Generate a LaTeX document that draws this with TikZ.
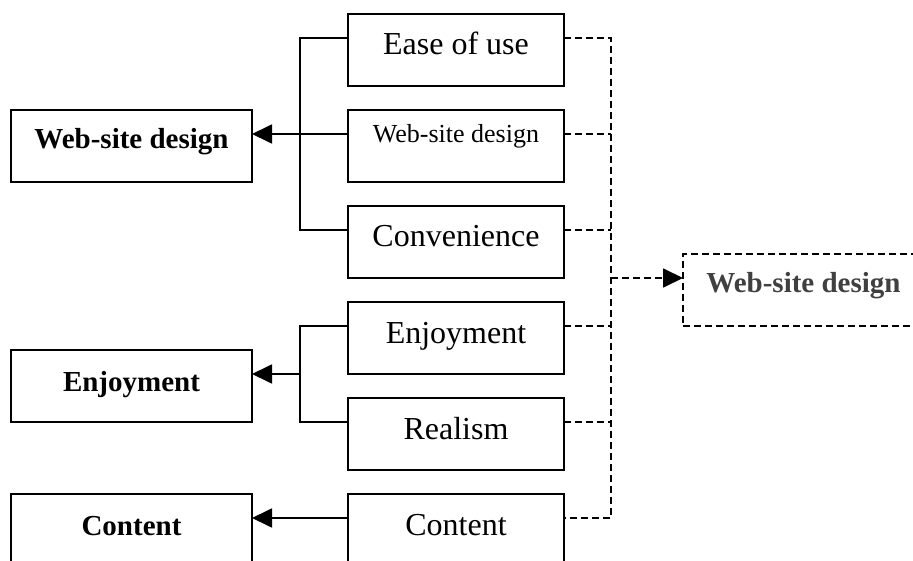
\documentclass[tikz,border=0pt]{standalone}
\usepackage{fontspec}
\setmainfont{Liberation Serif}
\usetikzlibrary{arrows.meta,calc}
\definecolor{labelgray}{HTML}{404040}

\tikzset{
  frame/.style={draw, rectangle, line width=1.8pt, inner sep=0pt, outer sep=0pt},
  midbox/.style={frame, minimum width=216pt, text height=41pt, text depth=31pt,
    font=\fontsize{32}{38}\selectfont},
  midsmall/.style={frame, minimum width=216pt, text height=33pt, text depth=39pt,
    font=\fontsize{26}{31}\selectfont},
  factorbox/.style={frame, minimum width=241pt, text height=40pt, text depth=32pt,
    font=\fontsize{29}{35}\selectfont\bfseries},
  solidlink/.style={line width=1.8pt},
  dashlink/.style={line width=1.8pt, dash pattern=on 7pt off 4pt},
  bigtip/.style={-{Triangle[length=20pt,width=19pt]}}
}

\begin{document}
\begin{tikzpicture}[x=1pt,y=-1pt]
\useasboundingbox (0,0) rectangle (913,561);
\clip (0,0) rectangle (913,561);

% items (middle column)
\node[midbox]   (m1) at (456,50)  {Ease of use};
\node[midsmall] (m2) at (456,146) {Web-site design};
\node[midbox]   (m3) at (456,242) {Convenience};
\node[midbox]   (m4) at (456,338) {Enjoyment};
\node[midbox]   (m5) at (456,434) {Realism};
\node[midbox]   (m6) at (456,530) {Content};

% factors (left column)
\node[factorbox, text height=39pt, text depth=33pt] (f1) at (131.5,146) {Web-site design};
\node[factorbox, text height=41pt, text depth=31pt] (f2) at (131.5,386) {Enjoyment};
\node[factorbox, text height=41pt, text depth=31pt] (f3) at (131.5,530) {Content};

% combined construct (right)
\node[factorbox, dash pattern=on 7pt off 4pt, text=labelgray, text height=39pt, text depth=33pt]
  (r) at (803.5,290) {Web-site design};

% link points, a third of the way down each box
\foreach \n in {m1,m2,m3,m4,m5,m6}{
  \coordinate (\n w) at ($(\n.north west)+(0,24)$);
  \coordinate (\n e) at ($(\n.north east)+(0,24)$);
}
\coordinate (rw) at ($(r.north west)+(0,24)$);

% bus lines
\coordinate (b1) at ($(m2w)+(-48,0)$);
\coordinate (b2) at ($(m4w)!0.5!(m5w)+(-48,0)$);
\coordinate (d1) at ($(m1e)+(47,0)$);

% first factor
\draw[solidlink] (m1w) -| (b1) |- (m3w);
\draw[solidlink] (m2w) -- (b1);
\draw[solidlink, bigtip] (b1) -- (b1 -| f1.east);

% second factor
\draw[solidlink] (m4w) -| (b2 |- m4w) -- (b2 |- m5w) -- (m5w);
\draw[solidlink, bigtip] (b2) -- (b2 -| f2.east);

% third factor
\draw[solidlink, bigtip] (m6w) -- (m6w -| f3.east);

% dashed collector to the combined construct
\draw[dashlink] (m1e) -- (d1) -- (d1 |- m6e) -- (m6e);
\foreach \n in {m2,m3,m4,m5}{
  \draw[dashlink] (\n e) -- (\n e -| d1);
}
\draw[dashlink, bigtip] (d1 |- rw) -- (rw);

\end{tikzpicture}
\end{document}
